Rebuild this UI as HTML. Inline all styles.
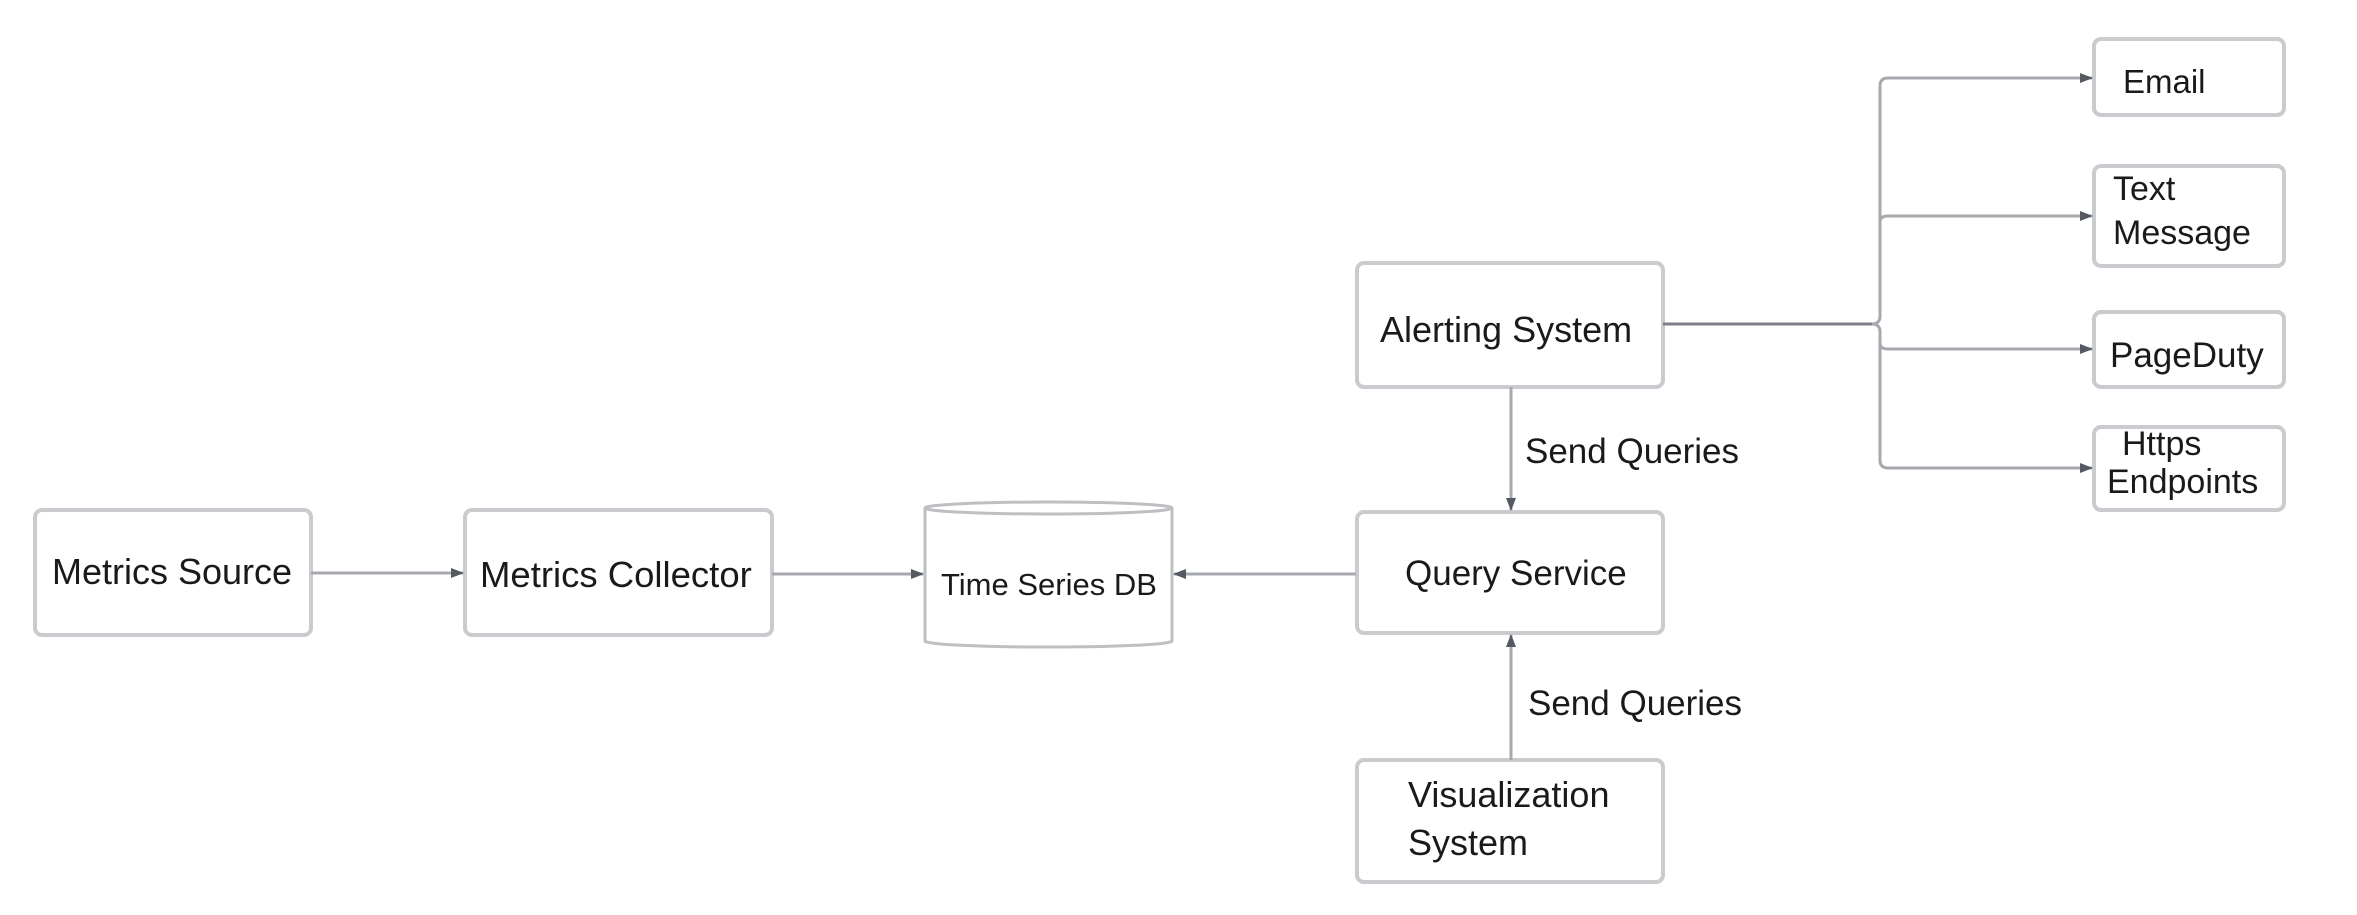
<!DOCTYPE html>
<html><head><meta charset="utf-8"><style>
html,body{margin:0;padding:0;background:#fff;}
svg{display:block;}
text{font-family:"Liberation Sans",sans-serif;fill:#1a1a1a;}
</style></head><body>
<svg width="2357" height="915" viewBox="0 0 2357 915" xmlns="http://www.w3.org/2000/svg">
<defs>
<marker id="a" markerWidth="13" markerHeight="12" refX="12" refY="6" orient="auto" markerUnits="userSpaceOnUse">
<path d="M0,1 L13,6 L0,11 Z" fill="#555a62"/>
</marker>
</defs>
<g fill="#fff" stroke="#c9cbce" stroke-width="4">
<rect x="35" y="510" width="276" height="125" rx="7"/>
<rect x="465" y="510" width="307" height="125" rx="7"/>
<rect x="1357" y="263" width="306" height="124" rx="7"/>
<rect x="1357" y="512" width="306" height="121" rx="7"/>
<rect x="1357" y="760" width="306" height="122" rx="7"/>
<rect x="2094" y="39" width="190" height="76" rx="7"/>
<rect x="2094" y="166" width="190" height="100" rx="7"/>
<rect x="2094" y="312" width="190" height="75" rx="7"/>
<rect x="2094" y="427" width="190" height="83" rx="7"/>
</g>
<g fill="#fff" stroke="#bdbfc2" stroke-width="3">
<path d="M925,508 L925,641 A123,6 0 0 0 1172,641 L1172,508"/>
<ellipse cx="1048.5" cy="508" rx="123.5" ry="6"/>
</g>
<g fill="none" stroke="#a6a9ad" stroke-width="3">
<line x1="311" y1="573" x2="463" y2="573" marker-end="url(#a)"/>
<line x1="772" y1="574" x2="923" y2="574" marker-end="url(#a)"/>
<line x1="1356" y1="574" x2="1174" y2="574" marker-end="url(#a)"/>
<line x1="1511" y1="387" x2="1511" y2="510" marker-end="url(#a)"/>
<line x1="1511" y1="760" x2="1511" y2="635" marker-end="url(#a)"/>
<path d="M1663,324 L1872,324 Q1880,324 1880,316 L1880,86 Q1880,78 1888,78 L2092,78" marker-end="url(#a)"/>
<path d="M1880,222 Q1880,216 1888,216 L2092,216" marker-end="url(#a)"/>
<path d="M1872,324 Q1880,324 1880,332 L1880,460 Q1880,468 1888,468 L2092,468" marker-end="url(#a)"/>
<path d="M1880,343 Q1880,349 1888,349 L2092,349" marker-end="url(#a)"/>
</g>
<line x1="1663" y1="324" x2="1872" y2="324" stroke="#7d8187" stroke-width="3"/>
<g font-size="36">
<text x="52" y="584">Metrics Source</text>
<text x="480" y="587" font-size="36.5">Metrics Collector</text>
<text x="941" y="595" font-size="31">Time Series DB</text>
<text x="1380" y="342">Alerting System</text>
<text x="1405" y="585" font-size="35">Query Service</text>
<text x="1408" y="807">Visualization</text>
<text x="1408" y="855">System</text>
<text x="1525" y="463" font-size="35">Send Queries</text>
<text x="1528" y="715" font-size="35">Send Queries</text>
<text x="2123" y="93" font-size="33">Email</text>
<text x="2113" y="200" font-size="34">Text</text>
<text x="2113" y="244" font-size="34">Message</text>
<text x="2110" y="367" font-size="35">PageDuty</text>
<text x="2122" y="455" font-size="34">Https</text>
<text x="2107" y="493" font-size="34">Endpoints</text>
</g>
</svg>
</body></html>
